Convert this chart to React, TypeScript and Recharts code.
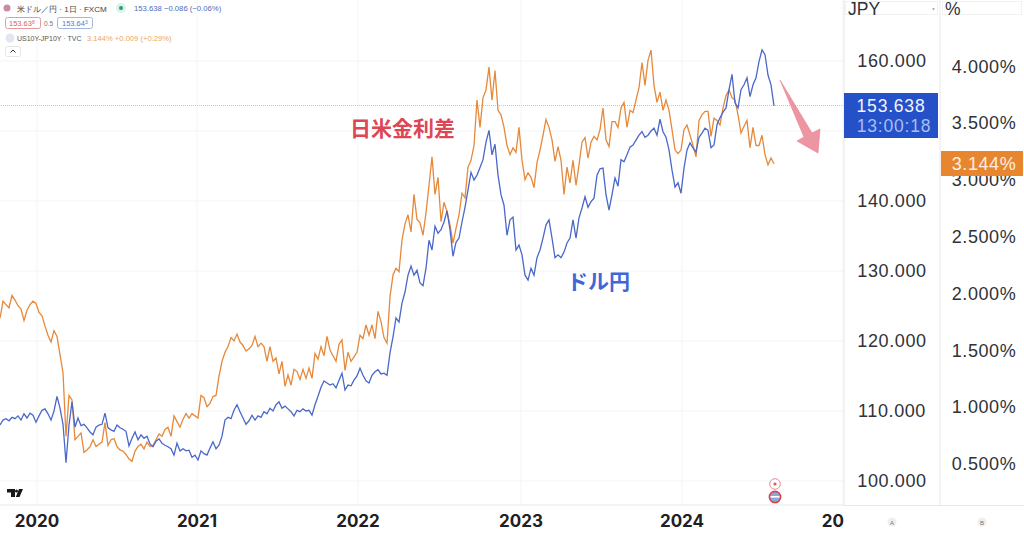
import { ComposedChart, Line, XAxis, YAxis, CartesianGrid, ReferenceLine } from 'recharts'

// one sample roughly every week, starting autumn 2019
const usdjpy = [
  108.0, 108.7, 108.9, 108.6, 109.1, 108.9, 109.3, 108.7, 109.6, 109.0, 109.7, 109.4, 108.4, 109.3, 110.1, 110.3,
  109.6, 108.7, 110.0, 112.1, 110.4, 108.1, 102.6, 108.0, 111.3, 107.7, 109.0, 107.9, 108.1, 107.6, 107.0, 106.6,
  107.7, 108.0, 108.1, 109.7, 107.6, 107.3, 107.1, 108.0, 107.6, 107.4, 107.1, 105.0, 106.1, 107.0, 105.9, 106.6,
  106.1, 106.4, 105.3, 104.9, 105.7, 106.0, 105.4, 105.1, 104.9, 104.6, 103.7, 105.4, 104.3, 104.6, 104.3, 104.4,
  103.4, 103.7, 103.0, 104.3, 103.9, 103.7, 104.7, 105.6, 104.6, 105.1, 106.4, 108.7, 109.1, 108.9, 110.1, 110.9,
  109.9, 109.0, 108.1, 108.6, 109.4, 108.7, 109.3, 109.1, 109.9, 109.6, 110.4, 110.0, 110.9, 111.3, 110.4, 110.7,
  110.3, 109.9, 109.3, 110.1, 109.9, 110.3, 110.0, 110.1, 109.4, 110.9, 112.1, 113.4, 114.3, 114.0, 113.7, 113.9,
  113.3, 114.4, 115.4, 113.0, 113.7, 113.6, 114.4, 115.0, 116.1, 115.1, 114.3, 114.0, 115.1, 115.6, 115.9, 115.3,
  115.4, 115.1, 118.3, 120.6, 123.3, 122.7, 125.4, 127.0, 129.4, 130.7, 129.4, 130.1, 128.3, 127.9, 130.4, 134.4,
  133.0, 136.4, 135.4, 135.9, 137.0, 138.6, 135.9, 132.1, 134.1, 134.7, 137.0, 139.1, 141.6, 144.1, 143.0, 143.7,
  144.8, 145.9, 148.4, 150.1, 146.6, 148.1, 143.7, 140.9, 139.4, 135.1, 137.3, 137.7, 133.0, 133.7, 132.3, 129.4,
  128.7, 130.4, 129.4, 131.9, 133.0, 134.7, 136.6, 137.3, 134.7, 131.9, 132.3, 131.9, 132.7, 134.0, 134.7, 137.3,
  134.7, 137.6, 139.0, 140.6, 139.1, 139.9, 140.4, 143.7, 144.6, 144.7, 140.9, 138.7, 140.9, 143.3, 142.1, 145.9,
  145.6, 146.6, 147.7, 148.0, 148.7, 149.4, 149.9, 149.1, 149.4, 150.0, 150.4, 149.4, 151.7, 149.9, 149.1, 147.3,
  144.4, 142.0, 142.6, 141.1, 144.7, 147.3, 148.3, 147.6, 147.0, 149.1, 149.7, 150.4, 150.1, 147.6, 148.0, 150.9,
  151.9, 152.7, 153.3, 155.9, 158.1, 154.0, 153.3, 155.9, 156.6, 157.6, 154.9, 156.6, 157.6, 159.9, 161.6, 160.9,
  158.0, 156.6, 153.6,
]

const spread = [
  1.78, 1.93, 1.90, 1.87, 1.98, 1.94, 1.89, 1.86, 1.76, 1.85, 1.90, 1.93, 1.91, 1.83, 1.80, 1.71,
  1.63, 1.57, 1.67, 1.62, 1.46, 1.30, 0.74, 1.10, 1.06, 0.71, 0.74, 0.77, 0.60, 0.62, 0.65, 0.71,
  0.65, 0.67, 0.69, 0.86, 0.66, 0.71, 0.72, 0.65, 0.62, 0.61, 0.58, 0.54, 0.52, 0.61, 0.65, 0.67,
  0.63, 0.69, 0.65, 0.66, 0.71, 0.76, 0.74, 0.80, 0.82, 0.74, 0.92, 0.87, 0.82, 0.89, 0.94, 0.90,
  0.94, 0.92, 0.90, 1.10, 1.08, 1.00, 1.03, 1.09, 1.10, 1.27, 1.40, 1.48, 1.53, 1.61, 1.58, 1.64,
  1.57, 1.54, 1.49, 1.51, 1.54, 1.62, 1.53, 1.56, 1.53, 1.40, 1.53, 1.40, 1.43, 1.29, 1.40, 1.18,
  1.28, 1.19, 1.33, 1.31, 1.24, 1.33, 1.25, 1.34, 1.25, 1.47, 1.42, 1.53, 1.45, 1.62, 1.50, 1.45,
  1.40, 1.55, 1.59, 1.32, 1.48, 1.40, 1.44, 1.48, 1.63, 1.60, 1.72, 1.63, 1.72, 1.60, 1.84, 1.75,
  1.61, 1.56, 1.97, 2.16, 2.22, 2.19, 2.47, 2.61, 2.69, 2.54, 2.87, 2.65, 2.62, 2.51, 2.71, 2.95,
  3.20, 2.87, 3.02, 2.63, 2.80, 2.72, 2.60, 2.44, 2.57, 2.69, 2.88, 2.84, 3.11, 3.17, 3.30, 3.70,
  3.46, 3.72, 3.79, 3.99, 3.70, 3.96, 3.61, 3.57, 3.46, 3.30, 3.22, 3.28, 3.24, 3.46, 3.17, 3.00,
  3.06, 3.02, 2.93, 3.15, 3.26, 3.39, 3.53, 3.46, 3.35, 3.16, 3.29, 3.17, 2.87, 3.11, 2.97, 3.17,
  2.95, 3.13, 3.33, 3.37, 3.19, 3.33, 3.38, 3.35, 3.44, 3.63, 3.35, 3.29, 3.51, 3.51, 3.46, 3.63,
  3.68, 3.46, 3.61, 3.59, 3.70, 3.81, 4.03, 3.83, 4.05, 4.14, 3.83, 3.68, 3.77, 3.61, 3.70, 3.61,
  3.44, 3.26, 3.23, 3.26, 3.44, 3.48, 3.39, 3.30, 3.20, 3.52, 3.57, 3.60, 3.60, 3.38, 3.54, 3.52,
  3.48, 3.63, 3.74, 3.79, 3.72, 3.70, 3.57, 3.41, 3.47, 3.52, 3.28, 3.46, 3.30, 3.30, 3.39, 3.22,
  3.13, 3.19, 3.14,
]

// 150 sits behind the last price badge, so it only gets a grid line
const priceTicks = [100, 110, 120, 130, 140, 160]
const priceGrid = [100, 110, 120, 130, 140, 150, 160]
const pctTicks = [0.5, 1, 1.5, 2, 2.5, 3, 3.5, 4]
const yearTicks = [12.33, 65.67, 119.33, 173.67, 227.33, 281]
const yearLabels = ['2020', '2021', '2022', '2023', '2024', '20']

const lastPrice = 153.638

const chartData = usdjpy.map((v, i) => ({ week: i, usdjpy: v, spread: spread[i] }))

const FONT = '"Liberation Sans", Arial, sans-serif'
const BLUE = '#4a68c9'
const ORANGE = '#e6893a'
const BORDER = '#e8e8e8'

function PriceTick({ x, y, payload }: any) {
  return (
    <text x={x + 40} y={y + 6.5} textAnchor="middle" fontFamily={FONT} fontSize={18} letterSpacing={0.6} fill="#2f3238">
      {payload.value.toFixed(3)}
    </text>
  )
}

function PctTick({ x, y, payload }: any) {
  return (
    <text x={x + 36} y={y + 6.5} textAnchor="middle" fontFamily={FONT} fontSize={18} letterSpacing={0.6} fill="#2f3238">
      {payload.value.toFixed(3)}%
    </text>
  )
}

function YearTick({ x, y, payload }: any) {
  const label = yearLabels[yearTicks.indexOf(payload.value)]
  // the last label is cut off by the price scale
  const last = label === '20'
  return (
    <text
      x={last ? x + 1 : x}
      y={y + 14}
      textAnchor={last ? 'end' : 'middle'}
      fontFamily="Inter, sans-serif"
      fontWeight={700}
      fontSize={17}
      fill="#1e2024"
    >
      {label}
    </text>
  )
}

function Overlay() {
  return (
    <svg width={1024} height={535} style={{ position: 'absolute', left: 0, top: 0 }} fontFamily={FONT}>
      {/* x axis line runs under the scales too */}
      <line x1={844} y1={505.5} x2={1024} y2={505.5} stroke={BORDER} />

      {/* legend */}
      <circle cx={7} cy={8} r={3.5} fill="#c98aa8" />
      <text x={17} y={11.5} fontSize={8.1} fill="#444">米ドル／円 · 1日 · FXCM</text>
      <circle cx={121} cy={8} r={5} fill="#d9f2ea" />
      <circle cx={121} cy={8} r={2} fill="#2a9d7f" />
      <text x={134} y={11} fontSize={7.7} fill="#4f6cb8">153.638 −0.086 (−0.06%)</text>

      <rect x={5.5} y={17.5} width={35} height={11} rx={2} fill="#fff" stroke="#e59aa0" />
      <text x={9} y={26} fontSize={7.5} fill="#d9606a">153.63<tspan fontSize={5} dy={-2}>8</tspan></text>
      <text x={44} y={25.5} fontSize={6.5} fill="#777">0.5</text>
      <rect x={57.5} y={17.5} width={35} height={11} rx={2} fill="#fff" stroke="#a3b6e3" />
      <text x={62} y={26} fontSize={7.5} fill="#5a78c4">153.64<tspan fontSize={5} dy={-2}>3</tspan></text>

      <circle cx={10} cy={38} r={4.5} fill="#e3e6ee" />
      <text x={17} y={41} fontSize={7} fill="#555">US10Y-JP10Y · TVC</text>
      <text x={87} y={41} fontSize={7.6} fill="#e8a860">3.144% +0.009 (+0.29%)</text>

      <rect x={5.5} y={46.5} width={15} height={10} rx={2} fill="#fff" stroke="#e5e5e5" />
      <path d="M10.5 52.5 L13 50 L15.5 52.5" fill="none" stroke="#333" />

      {/* annotations */}
      <text x={350} y={136} fontSize={21} fontWeight={700} fill="#dc4655" fontFamily='"Noto Sans CJK JP"'>日米金利差</text>
      <text x={567} y={289} fontSize={21} fontWeight={700} fill="#3f67d6" fontFamily='"Noto Sans CJK JP"'>ドル円</text>
      <polygon points="780,80 812,133 820,129 818,153 797,141 804,137" fill="#ee95a2" stroke="#e77f8f" strokeWidth={0.6} />

      {/* tradingview logo */}
      <path d="M7 489 H15 V497 H11 V492.5 H7 Z" fill="#16181c" />
      <circle cx={16.5} cy={491} r={1.5} fill="#16181c" />
      <path d="M19 489 H23 L19.5 497 H15.8 Z" fill="#16181c" />

      {/* event markers */}
      <circle cx={775} cy={484} r={5.3} fill="#fff" stroke="#ea8a92" />
      <circle cx={775} cy={484} r={1.6} fill="#e2545f" />
      <circle cx={775} cy={497} r={5.6} fill="#8fa9d6" stroke="#d9404e" strokeWidth={1.6} />
      <rect x={770.5} y={496} width={9} height={1.6} fill="#fff" />

      {/* scale headers */}
      <rect x={845.5} y={1.5} width={92} height={13} fill="#fff" stroke="#f1f1f1" />
      <text x={848} y={15} fontSize={17.5} fill="#2f3238">JPY</text>
      <path d="M932 8.5 H935 L933.5 10 Z" fill="#777" />
      <rect x={942.5} y={1.5} width={79} height={13} fill="#fff" stroke="#f1f1f1" />
      <text x={945} y={15} fontSize={17.5} fill="#2f3238">%</text>

      {/* last price badges */}
      <rect x={844} y={93} width={94} height={45} fill="#2450c8" />
      <text x={891} y={112} textAnchor="middle" fontSize={17.5} letterSpacing={0.8} fill="#f2f5ff">153.638</text>
      <text x={894} y={132} textAnchor="middle" fontSize={17.5} letterSpacing={0.8} fill="#a9bdf0">13:00:18</text>
      <rect x={941} y={151} width={82} height={25} fill="#e8852f" />
      <text x={984} y={170} textAnchor="middle" fontSize={18} letterSpacing={0.6} fill="#fdf0e2">3.144%</text>

      {/* scale badges */}
      <circle cx={892} cy={522} r={4.5} fill="#eeeeee" />
      <text x={892} y={524.5} textAnchor="middle" fontSize={6} fill="#777">A</text>
      <circle cx={982} cy={522} r={4.5} fill="#eeeeee" />
      <text x={982} y={524.5} textAnchor="middle" fontSize={6} fill="#777">B</text>
    </svg>
  )
}

export default function App() {
  return (
    <div style={{ position: 'fixed', left: 0, top: 0, width: 1024, height: 535, background: '#fff', overflow: 'hidden' }}>
      <ComposedChart width={1024} height={535} data={chartData} margin={{ top: 0, right: 0, bottom: 0, left: 0 }}>
        <CartesianGrid
          xAxisId="time"
          yAxisId="jpy"
          stroke="#f5f5f5"
          horizontalValues={priceGrid}
          verticalValues={yearTicks}
        />
        <XAxis
          xAxisId="time"
          dataKey="week"
          type="number"
          domain={[0, 281.33]}
          ticks={yearTicks}
          interval={0}
          height={30}
          tick={YearTick}
          tickLine={false}
          axisLine={{ stroke: BORDER }}
          allowDataOverflow
        />
        {/* right axes get stacked in id order, so jpy ends up next to the plot */}
        <YAxis
          yAxisId="jpy"
          orientation="right"
          width={96}
          domain={[96.571, 168.714]}
          ticks={priceTicks}
          interval={0}
          tick={PriceTick}
          tickLine={false}
          axisLine={{ stroke: BORDER }}
          allowDataOverflow
        />
        <YAxis
          yAxisId="pct"
          orientation="right"
          width={84}
          domain={[0.1356, 4.581]}
          ticks={pctTicks}
          interval={0}
          tick={PctTick}
          tickLine={false}
          axisLine={{ stroke: BORDER }}
          allowDataOverflow
        />
        <ReferenceLine xAxisId="time" yAxisId="jpy" y={lastPrice} stroke="#c4c6cc" strokeDasharray="1 1" />
        <Line
          xAxisId="time"
          yAxisId="pct"
          dataKey="spread"
          type="linear"
          stroke={ORANGE}
          strokeWidth={1.3}
          dot={false}
          isAnimationActive={false}
        />
        <Line
          xAxisId="time"
          yAxisId="jpy"
          dataKey="usdjpy"
          type="linear"
          stroke={BLUE}
          strokeWidth={1.3}
          dot={false}
          isAnimationActive={false}
        />
      </ComposedChart>
      <Overlay />
    </div>
  )
}
